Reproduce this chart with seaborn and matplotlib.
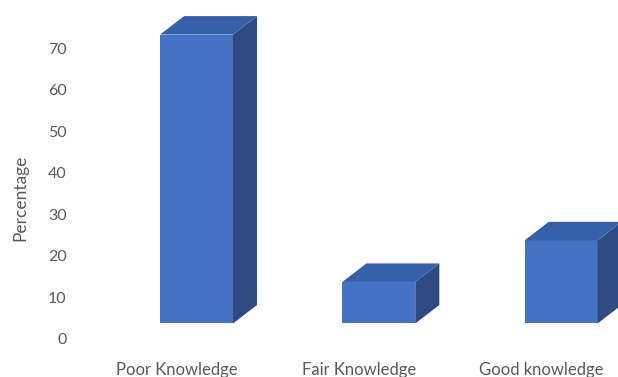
import matplotlib
matplotlib.use("Agg")
import matplotlib.pyplot as plt
import matplotlib.transforms as mtransforms
from matplotlib.patches import Polygon
import seaborn as sns
import pandas as pd

# ---- data ----
categories = ["Poor Knowledge", "Fair Knowledge", "Good knowledge"]
percentages = [69.5, 10.0, 20.0]
y_ticks = [0, 10, 20, 30, 40, 50, 60, 70]

# ---- style ----
FRONT = "#4472C4"
TOP = "#3760AB"
SIDE = "#2D4B82"
TEXT = "#595959"
W, H = 618, 377
PX_PER_UNIT = 4.157       # vertical pixels per percentage unit
ZERO_PX = 339             # pixel row of the 0 tick
AX_LEFT, AX_BOTTOM = 80, 352
FLOOR_OFFSET = 3.73       # 3D floor lift (in y units)
DEPTH_X, DEPTH_Y = 0.132, 4.45

sns.set_theme(style="white")
plt.rcParams["font.family"] = ["Lato", "DejaVu Sans"]

fig = plt.figure(figsize=(W / 100, H / 100), dpi=100)
ax = fig.add_axes([AX_LEFT / W, (H - AX_BOTTOM) / H, (W - AX_LEFT) / W, AX_BOTTOM / H])

df = pd.DataFrame({"Knowledge": categories, "Percentage": percentages})
sns.barplot(data=df, x="Knowledge", y="Percentage", color=FRONT, saturation=1,
            width=0.4, ax=ax, zorder=3, linewidth=0, edgecolor=FRONT)

for p in list(ax.patches):
    p.set_y(FLOOR_OFFSET)
    p.set_linewidth(0)
    x0 = p.get_x()
    x1 = x0 + p.get_width()
    b = p.get_y()
    t = b + p.get_height()
    top = Polygon([(x0, t), (x1, t), (x1 + DEPTH_X, t + DEPTH_Y), (x0 + DEPTH_X, t + DEPTH_Y)],
                  closed=True, facecolor=TOP, edgecolor="none", zorder=3)
    side = Polygon([(x1, b), (x1 + DEPTH_X, b + DEPTH_Y), (x1 + DEPTH_X, t + DEPTH_Y), (x1, t)],
                   closed=True, facecolor=SIDE, edgecolor="none", zorder=3)
    ax.add_patch(side)
    ax.add_patch(top)

cat_px = 182.3
ax.set_xlim(-(196.5 - AX_LEFT) / cat_px, (W - 196.5) / cat_px)
ax.set_ylim(-(AX_BOTTOM - ZERO_PX) / PX_PER_UNIT, ZERO_PX / PX_PER_UNIT)
ax.set_yticks(y_ticks)
ax.set_yticklabels([str(v) for v in y_ticks])
ax.tick_params(axis="both", length=0, colors=TEXT, labelsize=11.5)
ax.tick_params(axis="x", labelsize=12)
ax.tick_params(axis="y", pad=9.5)
ax.tick_params(axis="x", pad=7)
ax.set_xlabel("")
ax.set_ylabel("")
for s in ax.spines.values():
    s.set_visible(False)

shift = mtransforms.ScaledTranslation(-20 / 100, 0, fig.dpi_scale_trans)
for lbl in ax.get_xticklabels():
    lbl.set_transform(lbl.get_transform() + shift)

fig.text(20.5 / W, 1 - 198 / H, "Percentage", rotation=90, ha="center", va="center",
         color=TEXT, fontsize=12.5)

fig.savefig("out.png", dpi=100, facecolor="white")
